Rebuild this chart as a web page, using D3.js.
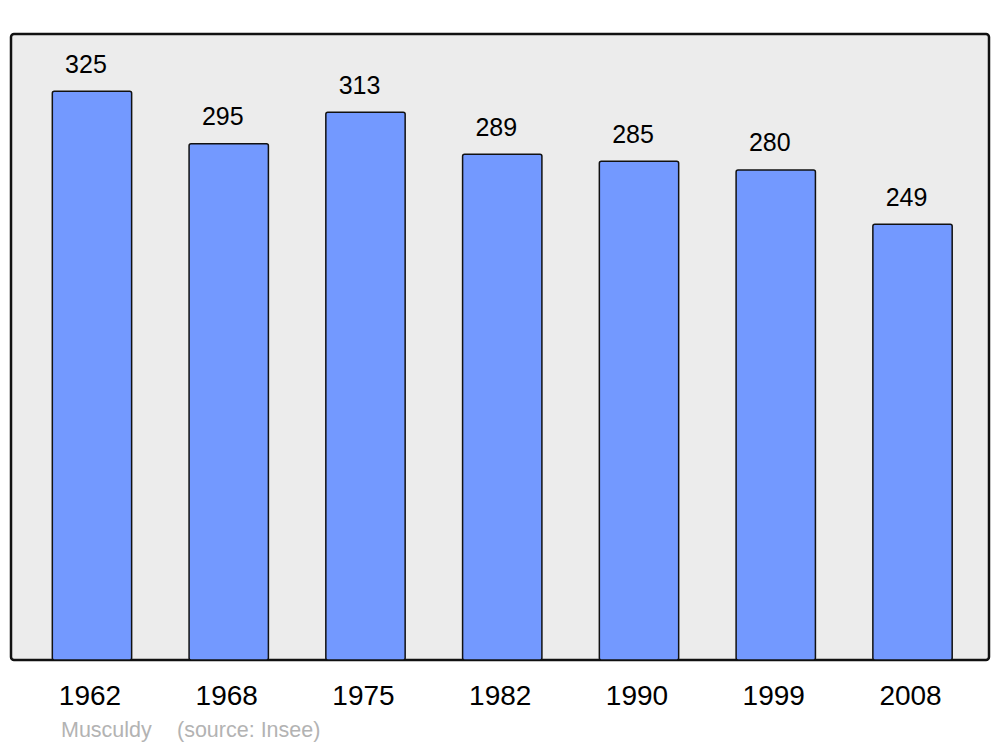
<!DOCTYPE html>
<html>
<head>
<meta charset="utf-8">
<script src="https://cdn.jsdelivr.net/npm/d3@7"></script>
<style>
  body { margin: 0; background: #fff; }
  svg text { font-family: "Liberation Sans", Arial, sans-serif; }
</style>
</head>
<body>
<div class="graph--pop"></div>
<script>
// Population by census year
var years = ["1962", "1968", "1975", "1982", "1990", "1999", "2008"];
var population = [325, 295, 313, 289, 285, 280, 249];
var placeName = "Musculdy";
var sourceText = "(source: Insee)";

var width = 1000, height = 747;
var panel = { left: 11, top: 34, right: 989, bottom: 660 };

var svg = d3.select(".graph--pop").append("svg")
    .attr("width", width)
    .attr("height", height);

// grey background frame
svg.append("rect")
    .attr("x", panel.left)
    .attr("y", panel.top)
    .attr("width", panel.right - panel.left)
    .attr("height", panel.bottom - panel.top)
    .attr("rx", 3)
    .attr("fill", "#ececec")
    .attr("stroke", "#111")
    .attr("stroke-width", 2.5);

var xScale = d3.scaleBand()
    .domain(years)
    .range([23.6, 980.9])
    .paddingInner(0.42)
    .paddingOuter(0.21);

var yScale = d3.scaleLinear()
    .domain([0, 357.7])
    .range([panel.bottom, panel.top]);

var data = years.map(function(y, i) { return { year: y, value: population[i] }; });

var bars = svg.append("g").attr("class", "bars");
bars.selectAll("rect")
    .data(data)
  .enter().append("rect")
    .attr("x", function(d) { return xScale(d.year); })
    .attr("y", function(d) { return yScale(d.value); })
    .attr("width", xScale.bandwidth())
    .attr("height", function(d) { return panel.bottom - yScale(d.value); })
    .attr("rx", 2)
    .attr("fill", "#7399ff")
    .attr("stroke", "#111")
    .attr("stroke-width", 1.5);

// value labels above each bar (sit a little left of centre, as in the original)
svg.append("g").selectAll("text")
    .data(data)
  .enter().append("text")
    .attr("x", function(d) { return xScale(d.year) + xScale.bandwidth() / 2 - 6; })
    .attr("y", function(d) { return yScale(d.value) - 18.5; })
    .attr("text-anchor", "middle")
    .attr("font-size", 25)
    .attr("fill", "#000")
    .text(function(d) { return d.value; });

// year axis (no line, labels only)
var xAxis = d3.axisBottom(xScale).tickSize(0).tickPadding(0);
var xAxisEl = svg.append("g")
    .attr("transform", "translate(-2," + 705 + ")")
    .call(xAxis);
xAxisEl.select(".domain").remove();
xAxisEl.selectAll("text")
    .attr("dy", 0)
    .attr("y", 0)
    .attr("font-size", 28)
    .attr("font-family", "'Liberation Sans', Arial, sans-serif")
    .attr("fill", "#000");

// footer
svg.append("text")
    .attr("x", 61)
    .attr("y", 737)
    .attr("font-size", 21.5)
    .attr("fill", "#b3b3b3")
    .text(placeName);
svg.append("text")
    .attr("x", 177)
    .attr("y", 737)
    .attr("font-size", 21.5)
    .attr("fill", "#b3b3b3")
    .text(sourceText);
</script>
</body>
</html>
